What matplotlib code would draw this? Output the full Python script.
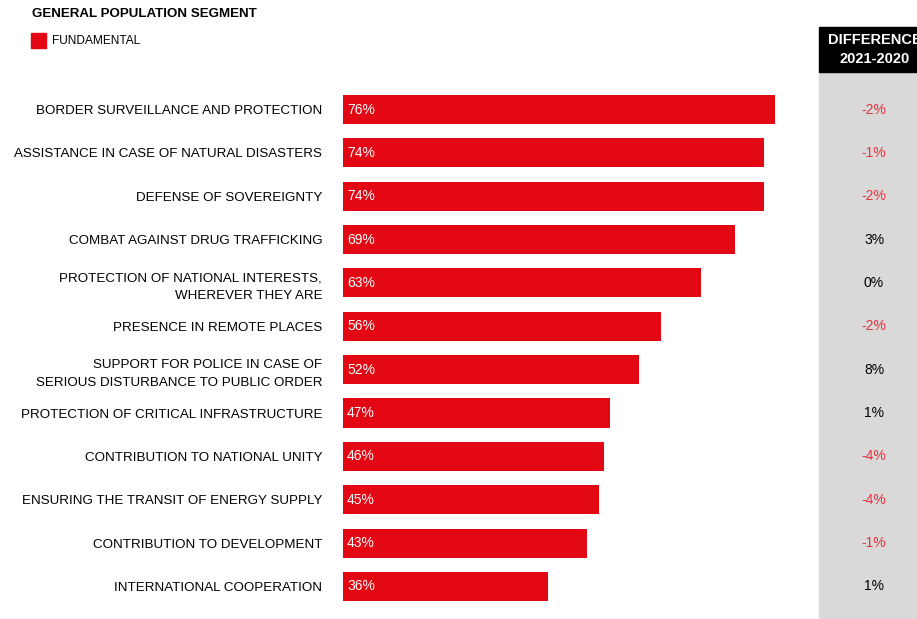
import matplotlib
matplotlib.use("Agg")
import matplotlib.pyplot as plt
from matplotlib.patches import Rectangle
from matplotlib.transforms import blended_transform_factory

plt.rcParams['font.family'] = ['Liberation Sans', 'DejaVu Sans']

# data
categories = [
    "BORDER SURVEILLANCE AND PROTECTION",
    "ASSISTANCE IN CASE OF NATURAL DISASTERS",
    "DEFENSE OF SOVEREIGNTY",
    "COMBAT AGAINST DRUG TRAFFICKING",
    "PROTECTION OF NATIONAL INTERESTS,\nWHEREVER THEY ARE",
    "PRESENCE IN REMOTE PLACES",
    "SUPPORT FOR POLICE IN CASE OF\nSERIOUS DISTURBANCE TO PUBLIC ORDER",
    "PROTECTION OF CRITICAL INFRASTRUCTURE",
    "CONTRIBUTION TO NATIONAL UNITY",
    "ENSURING THE TRANSIT OF ENERGY SUPPLY",
    "CONTRIBUTION TO DEVELOPMENT",
    "INTERNATIONAL COOPERATION",
]
fundamental = [76, 74, 74, 69, 63, 56, 52, 47, 46, 45, 43, 36]
difference = [-2, -1, -2, 3, 0, -2, 8, 1, -4, -4, -1, 1]

RED = "#E30613"
NEG = "#E8323C"
W, H = 917, 619
fig = plt.figure(figsize=(W / 100, H / 100), dpi=100)

# bar axes: x from 343px to 819px, y from 72px to bottom
px_per_pct = 432 / 76
ax = fig.add_axes([343 / W, 0, (819 - 343) / W, (H - 72) / H])
ax.patch.set_visible(False)
ax.set_xlim(0, (819 - 343) / px_per_pct)
y0, step = 109.5, 43.36
ax.set_ylim((H - y0) / step, (72 - y0) / step)

ypos = list(range(len(categories)))
ax.barh(ypos, fundamental, height=0.67, color=RED, linewidth=0)
for y, v in zip(ypos, fundamental):
    ax.text(0.7, y, f"{v}%", color="white", fontsize=10, va="center", ha="left")

ax.set_yticks(ypos)
ax.set_yticklabels(categories, fontsize=9.6, linespacing=1.6)
ax.tick_params(axis="y", length=0, pad=15)
ax.set_xticks([])
for s in ax.spines.values():
    s.set_visible(False)

# difference column
fig.patches.append(Rectangle((819 / W, 0), (W - 819) / W, (H - 72) / H,
                             transform=fig.transFigure, color="#D9D9D9", zorder=-1))
fig.patches.append(Rectangle((819 / W, (H - 72) / H), (W - 819) / W, 45 / H,
                             transform=fig.transFigure, color="black", zorder=-1))
fig.text(875 / W, (H - 40) / H, "DIFFERENCE", color="white", fontsize=10.5,
         fontweight="bold", ha="center", va="center")
fig.text(875 / W, (H - 59) / H, "2021-2020", color="white", fontsize=10.5,
         fontweight="bold", ha="center", va="center")
diff_tr = blended_transform_factory(fig.transFigure, ax.transData)
for y, d in zip(ypos, difference):
    fig.text(874 / W, y, f"{d}%", transform=diff_tr,
             color=NEG if d < 0 else "black", fontsize=10, ha="center", va="center")

# title and legend
fig.text(32 / W, (H - 14) / H, "GENERAL POPULATION SEGMENT", fontsize=9.6,
         fontweight="bold", ha="left", va="center")
fig.patches.append(Rectangle((31 / W, (H - 48) / H), 15 / W, 15 / H,
                             transform=fig.transFigure, color=RED))
fig.text(52 / W, (H - 41) / H, "FUNDAMENTAL", fontsize=8.6, ha="left", va="center")

fig.savefig("out.png", dpi=100)
